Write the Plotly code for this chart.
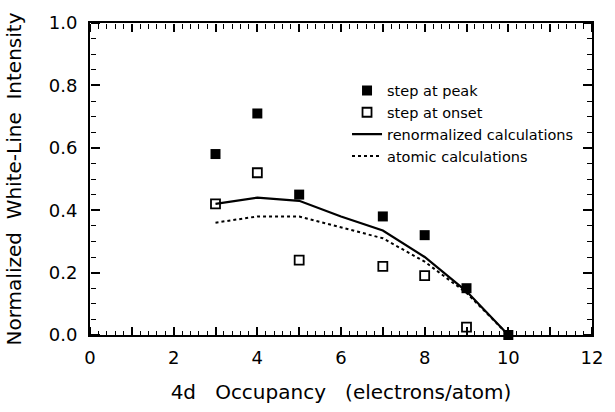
import plotly.graph_objects as go

# Data
occ_peak = [3, 4, 5, 7, 8, 9, 10]
peak_vals = [0.58, 0.71, 0.45, 0.38, 0.32, 0.15, 0.0]
occ_onset = [3, 4, 5, 7, 8, 9]
onset_vals = [0.42, 0.52, 0.24, 0.22, 0.19, 0.025]
occ_calc = [3, 4, 5, 6, 7, 8, 9, 10]
renorm_vals = [0.42, 0.44, 0.43, 0.38, 0.335, 0.25, 0.14, 0.0]
atomic_vals = [0.36, 0.38, 0.38, 0.345, 0.31, 0.235, 0.135, 0.0]

x_range = [0, 12]
y_range = [0, 1.0]

font_family = "DejaVu Sans, Verdana, sans-serif"

fig = go.Figure()
fig.add_trace(go.Scatter(x=occ_peak, y=peak_vals, mode="markers", name="step at peak",
                         marker=dict(symbol="square", size=10, color="black"), cliponaxis=False))
fig.add_trace(go.Scatter(x=occ_onset, y=onset_vals, mode="markers", name="step at onset",
                         marker=dict(symbol="square-open", size=9, color="black", line=dict(width=1.8))))
fig.add_trace(go.Scatter(x=occ_calc, y=renorm_vals, mode="lines", name="renormalized calculations",
                         line=dict(color="black", width=2.2)))
fig.add_trace(go.Scatter(x=occ_calc, y=atomic_vals, mode="lines", name="atomic calculations",
                         line=dict(color="black", width=2, dash="dot")))

# invisible helper traces so the tick-only axes get drawn
for xa, ya in [("x2", "y"), ("x3", "y"), ("x", "y2"), ("x", "y3")]:
    fig.add_trace(go.Scatter(x=[x_range[0]], y=[y_range[0]], xaxis=xa, yaxis=ya, mode="markers",
                             marker=dict(opacity=0), showlegend=False, hoverinfo="skip"))

tick_common = dict(showgrid=False, zeroline=False, showline=False, showticklabels=False,
                   ticks="outside", tickcolor="black", anchor="free")

x_tick_axis = dict(range=x_range, dtick=1, tick0=0, ticklen=8, tickwidth=1.5,
                   minor=dict(dtick=0.2, ticks="outside", ticklen=4.5, tickwidth=1.2,
                              tickcolor="black", showgrid=False),
                   overlaying="x", **tick_common)
y_tick_axis = dict(range=y_range, dtick=0.2, tick0=0, ticklen=9, tickwidth=1.5,
                   minor=dict(dtick=0.05, ticks="outside", ticklen=5, tickwidth=1.2,
                              tickcolor="black", showgrid=False),
                   overlaying="y", **tick_common)

fig.update_layout(
    width=615, height=412,
    margin=dict(l=90, r=13, t=15, b=63),
    paper_bgcolor="white", plot_bgcolor="white",
    font=dict(family=font_family, color="black", size=18),
    showlegend=True,
    legend=dict(x=0.512, y=0.835, xanchor="left", yanchor="top", bgcolor="rgba(0,0,0,0)",
                font=dict(size=14.5), tracegroupgap=0, itemwidth=30),
    xaxis=dict(range=x_range, dtick=2, tick0=0, ticks="", ticklabelstandoff=5,
               showline=True, linewidth=1.8, linecolor="black", mirror=True,
               showgrid=False, zeroline=False,
               title=dict(text="4d   Occupancy   (electrons/atom)", font=dict(size=20), standoff=18),
               tickfont=dict(size=18)),
    yaxis=dict(range=y_range, dtick=0.2, tick0=0, ticks="", tickformat=".1f", ticklabelstandoff=7,
               showline=True, linewidth=1.8, linecolor="black", mirror=True,
               showgrid=False, zeroline=False,
               title=dict(text="Normalized  White-Line  Intensity", font=dict(size=20), standoff=22),
               tickfont=dict(size=18)),
    xaxis2=dict(side="top", position=0, **x_tick_axis),
    xaxis3=dict(side="bottom", position=1, **x_tick_axis),
    yaxis2=dict(side="right", position=0, **y_tick_axis),
    yaxis3=dict(side="left", position=1, **y_tick_axis),
)

fig.write_html("out.html")
